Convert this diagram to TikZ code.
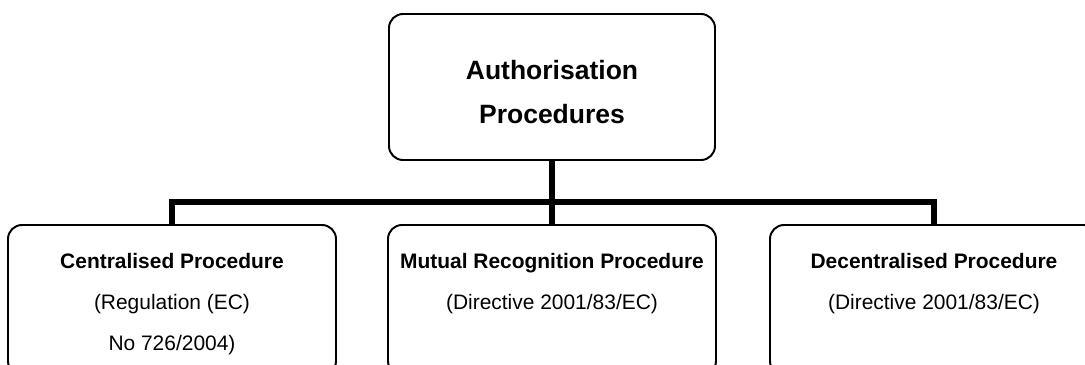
\documentclass[tikz,border=0pt]{standalone}
\usepackage{fontspec}
\setmainfont{Liberation Sans}
\usetikzlibrary{calc}

\tikzset{
  procbox/.style={draw,line width=1.4pt,rounded corners=0.35cm,align=center,
    minimum width=8.2cm,minimum height=3.75cm,inner sep=0pt,
    text height=2.55cm,text depth=0pt,
    font=\fontsize{14.9pt}{29.2pt}\selectfont},
  link/.style={line width=4.3pt}
}

\begin{document}
\begin{tikzpicture}

\clip (0,0) rectangle (27.125,9.125);

\node[draw,line width=1.4pt,rounded corners=0.35cm,align=center,
  minimum width=8.15cm,minimum height=3.65cm,inner sep=0pt,
  text height=1.85cm,text depth=0pt,
  font=\bfseries\fontsize{18.85pt}{31.3pt}\selectfont] (auth) at (13.8,6.95) {Authorisation\\Procedures};

\node[procbox] (central) at (4.3,1.625) {\textbf{Centralised Procedure}\\(Regulation (EC)\\No 726/2004)};
\node[procbox] (mutual) at (13.8,1.625) {\textbf{Mutual Recognition Procedure}\\(Directive 2001/83/EC)\\\mbox{}};
\node[procbox] (decentral) at (23.35,1.625) {\textbf{Decentralised Procedure}\\(Directive 2001/83/EC)\\\mbox{}};

\coordinate (bar) at (13.8,4.075);

\draw[link] (auth.south) -- (mutual.north);
\draw[link] (central.north) |- (bar) -| (decentral.north);

\end{tikzpicture}
\end{document}
